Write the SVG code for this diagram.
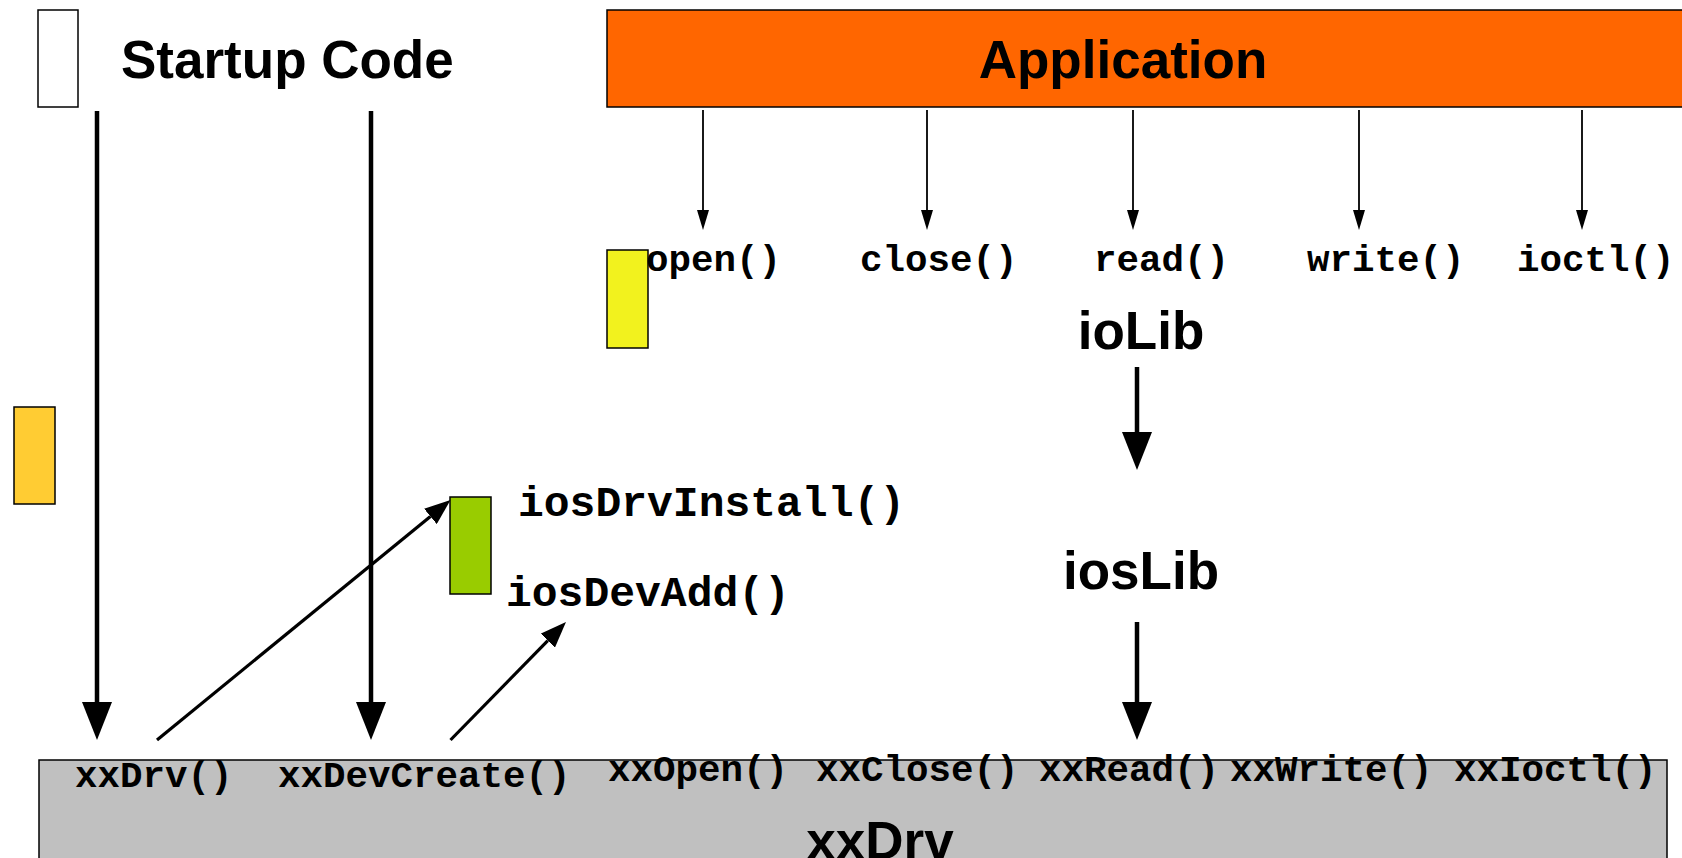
<svg xmlns="http://www.w3.org/2000/svg" width="1682" height="858" viewBox="0 0 1682 858">
  <style>
    .box { stroke: #000; stroke-width: 1.5; }
    .title { font-family: "Liberation Sans", Arial, sans-serif; font-weight: bold; font-size: 53px; fill: #000; }
    .fn { font-family: "Liberation Mono", "Courier New", monospace; font-weight: bold; font-size: 37.5px; fill: #000; }
    .fnl { font-family: "Liberation Mono", "Courier New", monospace; font-weight: bold; font-size: 43px; fill: #000; }
    .thick { stroke: #000; stroke-width: 4.5; fill: none; }
    .mid { stroke: #000; stroke-width: 3.2; fill: none; }
    .thin { stroke: #000; stroke-width: 1.8; fill: none; }
  </style>
  <defs>
    <marker id="headBig" markerUnits="userSpaceOnUse" markerWidth="38" markerHeight="30" refX="0" refY="15" orient="auto">
      <path d="M0,0 L38,15 L0,30 Z" fill="#000"/>
    </marker>
    <marker id="headMid" markerUnits="userSpaceOnUse" markerWidth="26" markerHeight="20" refX="0" refY="10" orient="auto">
      <path d="M0,0 L26,10 L0,20 Z" fill="#000"/>
    </marker>
    <marker id="headSmall" markerUnits="userSpaceOnUse" markerWidth="20" markerHeight="12" refX="0" refY="6" orient="auto">
      <path d="M0,0 L20,6 L0,12 Z" fill="#000"/>
    </marker>
  </defs>
  <rect width="1682" height="858" fill="#fff"/>

  <!-- startup code -->
  <g id="startup">
    <rect class="box" x="38" y="10" width="40" height="97" fill="#fff"/>
    <text class="title" x="121" y="78">Startup Code</text>
  </g>

  <!-- application layer -->
  <g id="application">
    <rect class="box" x="607" y="10" width="1085" height="97" fill="#FF6600"/>
    <text class="title" x="1123" y="78" text-anchor="middle">Application</text>
  </g>

  <!-- ioLib calls -->
  <g id="iolib">
    <rect class="box" x="607" y="250" width="41" height="98" fill="#F2F21E"/>
    <text class="fn" x="646" y="271">open()</text>
    <text class="fn" x="860" y="271">close()</text>
    <text class="fn" x="1094" y="271">read()</text>
    <text class="fn" x="1307" y="271">write()</text>
    <text class="fn" x="1517" y="271">ioctl()</text>
    <text class="title" x="1141" y="349" text-anchor="middle">ioLib</text>
  </g>

  <!-- iosLib -->
  <g id="ioslib">
    <rect class="box" x="450" y="497" width="41" height="97" fill="#99CC00"/>
    <text class="fnl" x="518" y="516">iosDrvInstall()</text>
    <text class="fnl" x="506" y="606">iosDevAdd()</text>
    <text class="title" x="1141" y="589" text-anchor="middle">iosLib</text>
  </g>

  <!-- side marker -->
  <g id="marker-box">
    <rect class="box" x="14" y="407" width="41" height="97" fill="#FFCC33"/>
  </g>

  <!-- driver layer -->
  <g id="xxdrv">
    <rect class="box" x="39" y="760" width="1628" height="110" fill="#C0C0C0"/>
    <text class="fn" x="75" y="787">xxDrv()</text>
    <text class="fn" x="278" y="787">xxDevCreate()</text>
    <text class="fn" x="608" y="781">xxOpen()</text>
    <text class="fn" x="816" y="781">xxClose()</text>
    <text class="fn" x="1039" y="781">xxRead()</text>
    <text class="fn" x="1230" y="781">xxWrite()</text>
    <text class="fn" x="1454" y="781">xxIoctl()</text>
    <text class="title" x="880" y="859" text-anchor="middle">xxDrv</text>
  </g>

  <!-- connectors -->
  <g id="connectors">
    <line class="thin" x1="703" y1="110" x2="703" y2="210" marker-end="url(#headSmall)"/>
    <line class="thin" x1="927" y1="110" x2="927" y2="210" marker-end="url(#headSmall)"/>
    <line class="thin" x1="1133" y1="110" x2="1133" y2="210" marker-end="url(#headSmall)"/>
    <line class="thin" x1="1359" y1="110" x2="1359" y2="210" marker-end="url(#headSmall)"/>
    <line class="thin" x1="1582" y1="110" x2="1582" y2="210" marker-end="url(#headSmall)"/>

    <line class="thick" x1="97" y1="111" x2="97" y2="702" marker-end="url(#headBig)"/>
    <line class="thick" x1="371" y1="111" x2="371" y2="702" marker-end="url(#headBig)"/>
    <line class="thick" x1="1137" y1="367" x2="1137" y2="432" marker-end="url(#headBig)"/>
    <line class="thick" x1="1137" y1="622" x2="1137" y2="702" marker-end="url(#headBig)"/>

    <line class="mid" x1="157" y1="740" x2="430.4" y2="516.4" marker-end="url(#headMid)"/>
    <line class="mid" x1="450.5" y1="740" x2="547.8" y2="640.6" marker-end="url(#headMid)"/>
  </g>
</svg>
